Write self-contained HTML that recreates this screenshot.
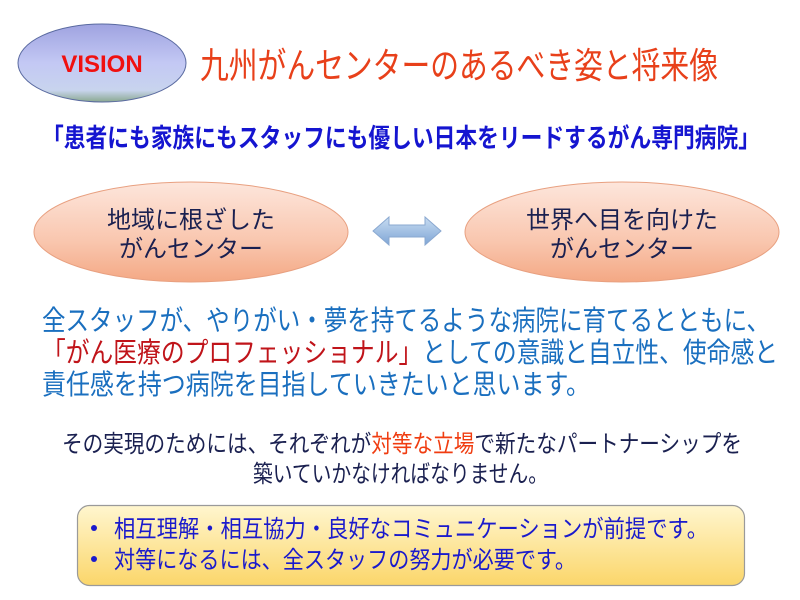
<!DOCTYPE html>
<html><head><meta charset="utf-8"><style>
html,body{margin:0;padding:0;background:#fff;width:800px;height:600px;overflow:hidden}
svg{display:block}
text{font-family:"Liberation Sans","Noto Sans CJK JP",sans-serif}
</style></head><body>
<svg width="800" height="600" viewBox="0 0 800 600" xmlns="http://www.w3.org/2000/svg">
<defs>
<linearGradient id="gv" x1="0" y1="0" x2="0" y2="1">
<stop offset="0" stop-color="#9fa3e0"/><stop offset="0.5" stop-color="#c3c8f4"/><stop offset="0.85" stop-color="#c8d4ee"/><stop offset="1" stop-color="#8aa890"/>
</linearGradient>
<linearGradient id="go" x1="0" y1="0" x2="0" y2="1">
<stop offset="0" stop-color="#fde6dc"/><stop offset="0.6" stop-color="#f9c6ae"/><stop offset="1" stop-color="#f4a884"/>
</linearGradient>
<linearGradient id="gy" x1="0" y1="0" x2="0" y2="1">
<stop offset="0" stop-color="#fff6cf"/><stop offset="1" stop-color="#fbd66a"/>
</linearGradient>
<linearGradient id="ga" x1="0" y1="0" x2="0" y2="1">
<stop offset="0" stop-color="#c8dcf2"/><stop offset="1" stop-color="#7fa6d6"/>
</linearGradient>
</defs>

<ellipse cx="102" cy="63" rx="84" ry="39" fill="url(#gv)" stroke="#5a6aa0" stroke-width="1"/>
<text x="102" y="72" text-anchor="middle" font-size="24" font-weight="bold" fill="#f01010">VISION</text>

<text x="200" y="78" font-size="36" fill="#e8401a" textLength="518" lengthAdjust="spacingAndGlyphs">九州がんセンターのあるべき姿と将来像</text>

<text x="42" y="147" font-size="26" font-weight="bold" fill="#1515d0" textLength="718" lengthAdjust="spacingAndGlyphs">「患者にも家族にもスタッフにも優しい日本をリードするがん専門病院」</text>

<ellipse cx="191" cy="232" rx="157" ry="50" fill="url(#go)" stroke="#e8a080" stroke-width="1"/>
<text x="191" y="228" text-anchor="middle" font-size="24" fill="#1a2050">地域に根ざした</text>
<text x="191" y="257" text-anchor="middle" font-size="24" fill="#1a2050">がんセンター</text>

<ellipse cx="622" cy="232" rx="157" ry="50" fill="url(#go)" stroke="#e8a080" stroke-width="1"/>
<text x="622" y="228" text-anchor="middle" font-size="24" fill="#1a2050">世界へ目を向けた</text>
<text x="622" y="257" text-anchor="middle" font-size="24" fill="#1a2050">がんセンター</text>

<polygon points="373,231 389,217 389,225 425,225 425,217 441,231 425,245 425,237 389,237 389,245" fill="url(#ga)" stroke="#8aa8d0" stroke-width="1"/>

<text x="42" y="330" font-size="28" fill="#1a6fbf" textLength="728" lengthAdjust="spacingAndGlyphs">全スタッフが、やりがい・夢を持てるような病院に育てるとともに、</text>
<text x="42" y="362" font-size="28" fill="#1a6fbf" textLength="736" lengthAdjust="spacingAndGlyphs"><tspan fill="#c0141a">「がん医療のプロフェッショナル」</tspan>としての意識と自立性、使命感と</text>
<text x="42" y="394" font-size="28" fill="#1a6fbf" textLength="548" lengthAdjust="spacingAndGlyphs">責任感を持つ病院を目指していきたいと思います。</text>

<text x="62" y="452" font-size="24" fill="#1a2050" textLength="680" lengthAdjust="spacingAndGlyphs">その実現のためには、それぞれが<tspan fill="#f03c10">対等な立場</tspan>で新たなパートナーシップを</text>
<text x="253" y="482" font-size="24" fill="#1a2050" textLength="295" lengthAdjust="spacingAndGlyphs">築いていかなければなりません。</text>

<rect x="77.5" y="505.5" width="667" height="80" rx="12" fill="url(#gy)" stroke="#9a9a9a" stroke-width="1.2"/>
<circle cx="94" cy="528" r="3" fill="#1a1acc"/>
<circle cx="94" cy="559" r="3" fill="#1a1acc"/>
<text x="114" y="537" font-size="24" fill="#1a1acc" textLength="594" lengthAdjust="spacingAndGlyphs">相互理解・相互協力・良好なコミュニケーションが前提です。</text>
<text x="114" y="568" font-size="24" fill="#1a1acc" textLength="462" lengthAdjust="spacingAndGlyphs">対等になるには、全スタッフの努力が必要です。</text>
</svg>
</body></html>
